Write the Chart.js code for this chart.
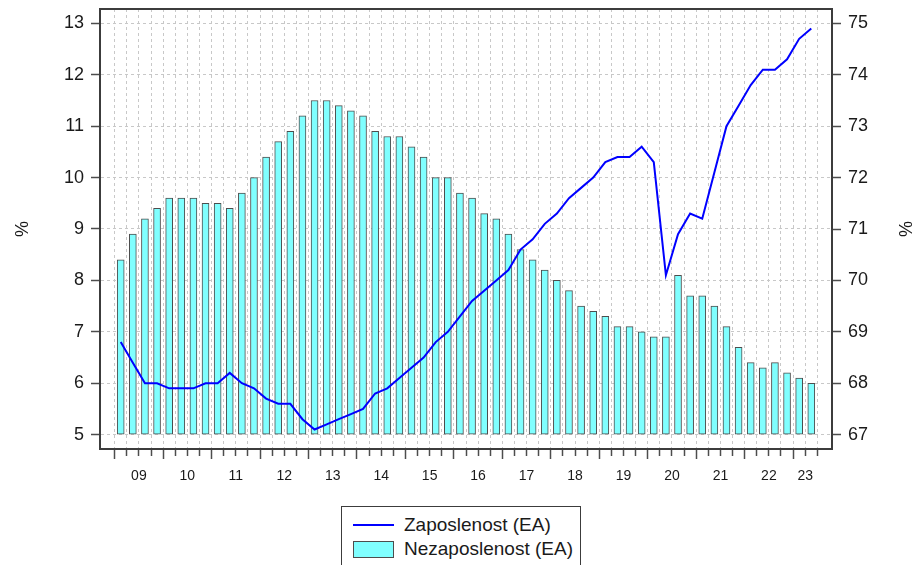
<!DOCTYPE html>
<html>
<head>
<meta charset="utf-8">
<title>Zaposlenost i nezaposlenost (EA)</title>
<script src="https://cdn.jsdelivr.net/npm/chart.js@4"></script>
<style>
    body { margin: 0; background: #fff; }
    .wrap { position: relative; width: 915px; height: 565px; overflow: hidden; }
    #legend {
        position: absolute; left: 341px; top: 506px; width: 238px; height: 80px;
        border: 1.5px solid #3c3c3c; background: #fff;
        font: 19px 'Liberation Sans', Arial, sans-serif; color: #1a1a1a;
    }
    .legend-row { position: absolute; left: 0; right: 0; height: 24px; }
    .legend-row span { position: absolute; left: 62px; top: 0; line-height: 24px; white-space: nowrap; }
    .swatch-line { position: absolute; left: 11px; top: 11px; width: 41px; height: 2px; }
    .swatch-box { position: absolute; left: 11px; top: 4px; width: 39px; height: 15px; border: 1px solid #4d4d4d; }
</style>
</head>
<body>
<div class="wrap">
    <canvas id="chart" width="915" height="565"></canvas>
    <div id="legend"></div>
</div>
<script>
const quarters = [
    '2009Q1', '2009Q2', '2009Q3', '2009Q4', '2010Q1', '2010Q2', '2010Q3', '2010Q4',
    '2011Q1', '2011Q2', '2011Q3', '2011Q4', '2012Q1', '2012Q2', '2012Q3', '2012Q4',
    '2013Q1', '2013Q2', '2013Q3', '2013Q4', '2014Q1', '2014Q2', '2014Q3', '2014Q4',
    '2015Q1', '2015Q2', '2015Q3', '2015Q4', '2016Q1', '2016Q2', '2016Q3', '2016Q4',
    '2017Q1', '2017Q2', '2017Q3', '2017Q4', '2018Q1', '2018Q2', '2018Q3', '2018Q4',
    '2019Q1', '2019Q2', '2019Q3', '2019Q4', '2020Q1', '2020Q2', '2020Q3', '2020Q4',
    '2021Q1', '2021Q2', '2021Q3', '2021Q4', '2022Q1', '2022Q2', '2022Q3', '2022Q4',
    '2023Q1', '2023Q2'
];
const yearLabels = ['09', '10', '11', '12', '13', '14', '15', '16', '17', '18', '19', '20', '21', '22', '23'];

// employment, right axis
const zaposlenost = [
    68.8, 68.4, 68.0, 68.0, 67.9, 67.9, 67.9, 68.0, 68.0, 68.2, 68.0, 67.9,
    67.7, 67.6, 67.6, 67.3, 67.1, 67.2, 67.3, 67.4, 67.5, 67.8, 67.9, 68.1,
    68.3, 68.5, 68.8, 69.0, 69.3, 69.6, 69.8, 70.0, 70.2, 70.6, 70.8, 71.1,
    71.3, 71.6, 71.8, 72.0, 72.3, 72.4, 72.4, 72.6, 72.3, 70.1, 70.9, 71.3,
    71.2, 72.1, 73.0, 73.4, 73.8, 74.1, 74.1, 74.3, 74.7, 74.9
];
// unemployment, left axis
const nezaposlenost = [
    8.4, 8.9, 9.2, 9.4, 9.6, 9.6, 9.6, 9.5, 9.5, 9.4, 9.7, 10.0,
    10.4, 10.7, 10.9, 11.2, 11.5, 11.5, 11.4, 11.3, 11.2, 10.9, 10.8, 10.8,
    10.6, 10.4, 10.0, 10.0, 9.7, 9.6, 9.3, 9.2, 8.9, 8.6, 8.4, 8.2,
    8.0, 7.8, 7.5, 7.4, 7.3, 7.1, 7.1, 7.0, 6.9, 6.9, 8.1, 7.7,
    7.7, 7.5, 7.1, 6.7, 6.4, 6.3, 6.4, 6.2, 6.1, 6.0
];
const leftTicks = [5, 6, 7, 8, 9, 10, 11, 12, 13];
const rightTicks = [67, 68, 69, 70, 71, 72, 73, 74, 75];
const seriesNames = ['Zaposlenost (EA)', 'Nezaposlenost (EA)'];

const LINE_COLOR = '#0000ff';
const BAR_COLOR = '#80ffff';
const BAR_BORDER = '#4d4d4d';
const FRAME = '#3c3c3c';
const GRID = '#c8c8c8';

// x runs on quarter index; boundaries between quarters carry the grid and tick marks
const xMin = -1.71;
const xMax = quarters.length - 1 + 1.71;
const boundaries = quarters.map((q, i) => i - 0.5).concat([quarters.length - 0.5]);
const isYearStart = i => i < quarters.length && quarters[i].endsWith('Q1');
const yearCenters = yearLabels.map(yy => {
    const idx = quarters.map((q, i) => (q.slice(2, 4) === yy ? i : -1)).filter(i => i >= 0);
    return (idx[0] + idx[idx.length - 1]) / 2;
});

// fixed axis sizes so the plot box lands where the reference has it
function fixSize(size) {
    return s => {
        if (s.isHorizontal()) s.height = size; else s.width = size;
        s.paddingTop = 0;
        s.paddingBottom = 0;
        s.paddingLeft = 0;
        s.paddingRight = 0;
    };
}

Chart.defaults.font.family = "'Liberation Sans', Arial, sans-serif";
Chart.defaults.color = '#1a1a1a';

const ctx = document.getElementById('chart').getContext('2d');
const chart = new Chart(ctx, {
    type: 'bar',
    data: {
        datasets: [
            {
                type: 'line',
                label: seriesNames[0],
                data: zaposlenost.map((v, i) => ({ x: i, y: v })),
                xAxisID: 'x',
                yAxisID: 'y1',
                borderColor: LINE_COLOR,
                borderWidth: 2,
                pointRadius: 0,
                tension: 0,
                order: 0
            },
            {
                type: 'bar',
                label: seriesNames[1],
                data: nezaposlenost.map((v, i) => ({ x: i, y: v })),
                xAxisID: 'x',
                yAxisID: 'y',
                base: 5,
                backgroundColor: BAR_COLOR,
                borderColor: BAR_BORDER,
                borderWidth: 1,
                borderSkipped: false,
                barThickness: 7,
                order: 1
            }
        ]
    },
    options: {
        responsive: false,
        animation: false,
        devicePixelRatio: 1,
        layout: { padding: 0 },
        plugins: {
            legend: { display: false },
            tooltip: { enabled: false }
        },
        scales: {
            xTop: {
                type: 'linear', position: 'top', min: xMin, max: xMax, offset: false, bounds: 'data',
                ticks: { display: false },
                grid: { drawOnChartArea: false, drawTicks: false, offset: false },
                border: { display: true, color: FRAME, width: 2 },
                afterFit: fixSize(9)
            },
            x: {
                type: 'linear', position: 'bottom', min: xMin, max: xMax, offset: false, bounds: 'data',
                afterBuildTicks: s => { s.ticks = boundaries.map(v => ({ value: v })); },
                afterFit: fixSize(11),
                ticks: { display: false },
                grid: {
                    offset: false,
                    color: GRID,
                    lineWidth: 1,
                    tickLength: 10,
                    tickColor: '#4d4d4d',
                    tickWidth: 1.5,
                    tickBorderDash: c => (isYearStart(c.index) ? [] : [6, 20])
                },
                border: { display: true, color: FRAME, width: 2, dash: [3, 3] }
            },
            x2: {
                type: 'linear', position: 'bottom', min: xMin, max: xMax, offset: false, bounds: 'data',
                afterBuildTicks: s => { s.ticks = yearCenters.map(v => ({ value: v })); },
                afterFit: fixSize(105),
                ticks: {
                    font: { size: 14 },
                    padding: 8,
                    autoSkip: false,
                    maxRotation: 0,
                    callback: (v, i) => yearLabels[i]
                },
                grid: { display: false, drawTicks: false, offset: false },
                border: { display: false }
            },
            y: {
                type: 'linear', position: 'left', min: 4.72, max: 13.28, bounds: 'data',
                afterBuildTicks: s => { s.ticks = leftTicks.map(v => ({ value: v })); },
                afterFit: fixSize(100),
                ticks: { font: { size: 18 }, padding: 7 },
                grid: { color: GRID, lineWidth: 1, tickLength: 9, tickColor: '#4d4d4d', tickWidth: 1.5, tickBorderDash: [] },
                border: { display: true, color: FRAME, width: 2, dash: [3, 3] },
                title: { display: true, text: '%', font: { size: 18 }, padding: { top: 12, bottom: 0 } }
            },
            y1: {
                type: 'linear', position: 'right', min: 66.72, max: 75.28, bounds: 'data',
                afterBuildTicks: s => { s.ticks = rightTicks.map(v => ({ value: v })); },
                afterFit: fixSize(83),
                ticks: { font: { size: 18 }, padding: 7 },
                grid: { drawOnChartArea: false, tickLength: 9, tickColor: '#4d4d4d', tickWidth: 1.5, tickBorderDash: [] },
                border: { display: true, color: FRAME, width: 2 },
                title: { display: true, text: '%', font: { size: 18 }, padding: { top: 0, bottom: 0 } }
            }
        }
    }
});

// boxed legend below the plot, one series per row
const legend = document.getElementById('legend');
chart.data.datasets.forEach((ds, i) => {
    const swatch = ds.type === 'line'
        ? `<div class="swatch-line" style="background:${ds.borderColor}"></div>`
        : `<div class="swatch-box" style="background:${ds.backgroundColor}"></div>`;
    legend.insertAdjacentHTML('beforeend',
        `<div class="legend-row" style="top:${6 + i * 24}px">${swatch}<span>${ds.label}</span></div>`);
});
</script>
</body>
</html>
